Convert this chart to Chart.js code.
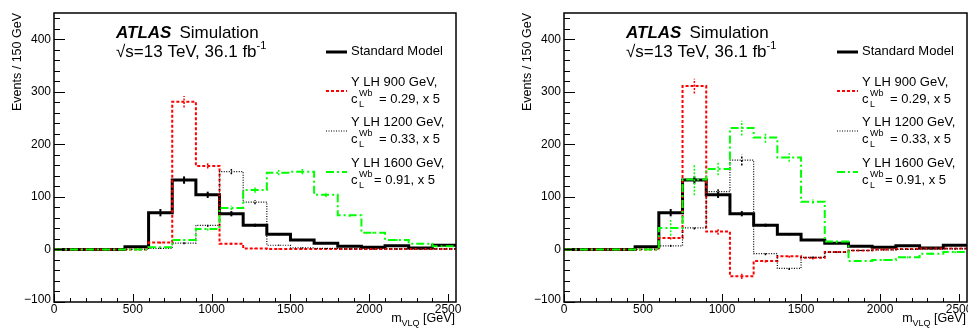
<!DOCTYPE html>
<html><head><meta charset="utf-8">
<script src="https://cdn.jsdelivr.net/npm/chart.js@4/dist/chart.umd.min.js"></script>
<style>
html,body{margin:0;padding:0;background:#fff;}
#wrap{position:relative;width:968px;height:329px;overflow:hidden;background:#fff;}
canvas{position:absolute;top:0;}
</style></head><body>
<div id="wrap">
<canvas id="c1" width="484" height="329" style="left:0px"></canvas>
<canvas id="c2" width="484" height="329" style="left:484px"></canvas>
</div>
<script>
// ---------- data ----------
const binEdges = [0,150,300,450,600,750,900,1050,1200,1350,1500,1650,1800,1950,2100,2250,2400,2550];
const xTickValues = [0,500,1000,1500,2000,2500];
const yTickValues = [-100,0,100,200,300,400];

const legendLabels = ["Standard Model", "Y LH 900 GeV,", "Y LH 1200 GeV,", "Y LH 1600 GeV,"];
const couplingLabels = ["= 0.29, x 5", "= 0.33, x 5", "= 0.91, x 5"];

// Standard Model (same in both panels)
const smValues = [0,0,0,5,70,132,104,68,46,29,18,12,6,4,7,3,8];
const smErrors = [0,0,0,1,7,7,6,5,3,2,2,1.5,1,1,1,1,1];

// Left panel signals
const leftY900  = [0,0,0,0,13,281,159,11,2,1,1,1,1,1,1,1,1];
const leftY900Err  = [0,0,0,0,2,11,5,2,1,1,1,1,1,1,1,1,1];
const leftY1200 = [0,0,0,0,2,12,46,148,90,8,3,2,1,1,1,1,1];
const leftY1200Err = [0,0,0,0,1,2,3,5,4,1,1,1,1,1,1,1,1];
const leftY1600 = [0,0,0,0,4,18,39,79,113,146,148,104,65,32,18,11,6];
const leftY1600Err = [0,0,0,0,1,2,3,4,5,5,5,4,3,2,2,1,1];

// Right panel signals
const rightY900  = [0,0,0,0,22,311,34,-51,-22,-13,-16,-5,-2,0,1,2,2];
const rightY900Err  = [0,0,0,0,3,14,6,5,3,3,3,2,1,1,1,1,1];
const rightY1200 = [0,0,0,0,7,41,110,170,-8,-36,-15,-5,-2,-1,0,1,1];
const rightY1200Err = [0,0,0,0,2,3,6,10,3,3,2,1,1,1,1,1,1];
const rightY1600 = [0,0,0,0,41,133,153,231,213,175,91,15,-22,-20,-15,-8,-5];
const rightY1600Err = [0,0,0,0,15,30,12,14,10,8,4,3,2,2,2,2,2];

// ---------- helpers ----------
const FONT = '"Liberation Sans", Arial, Helvetica, sans-serif';
function histPoints(vals){
  const pts = vals.map((v,i)=>({x: binEdges[i], y: v}));
  pts.push({x: binEdges[vals.length], y: vals[vals.length-1]});
  return pts;
}
const styles = {
  sm:   {color:'#000000', width:3,   dash:[]},
  y900: {color:'#ff0000', width:2,   dash:[3,2]},
  y1200:{color:'#000000', width:1.2, dash:[1,1.5]},
  y1600:{color:'#00ff00', width:2,   dash:[8,3,2,3]}
};
function ds(label, vals, errs, st, order){
  return {label, data: histPoints(vals), errs, borderColor: st.color, borderWidth: st.width,
    borderDash: st.dash, stepped: 'before', pointRadius: 0, fill: false, order, tension: 0};
}

const errorPlugin = {
  id:'errbars',
  afterDatasetsDraw(chart){
    const ctx = chart.ctx, a = chart.chartArea, xs = chart.scales.x, ys = chart.scales.y;
    ctx.save();
    ctx.beginPath(); ctx.rect(a.left, a.top, a.right-a.left, a.bottom-a.top); ctx.clip();
    chart.data.datasets.forEach(d=>{
      ctx.strokeStyle = d.borderColor;
      ctx.lineWidth = d.borderWidth >= 3 ? 2 : 1.5;
      ctx.setLineDash(d.borderDash.length ? [2,1.5] : []);
      d.errs.forEach((e,i)=>{
        if(!e) return;
        const v = d.data[i].y;
        const xc = xs.getPixelForValue((binEdges[i]+binEdges[i+1])/2);
        ctx.beginPath();
        ctx.moveTo(xc, ys.getPixelForValue(v-e));
        ctx.lineTo(xc, ys.getPixelForValue(v+e));
        ctx.stroke();
      });
    });
    ctx.restore();
  }
};

function decorPlugin(){
  return {
    id:'decor',
    afterDraw(chart){
      const ctx = chart.ctx, a = chart.chartArea, xs = chart.scales.x, ys = chart.scales.y;
      ctx.save();
      ctx.setLineDash([]);
      ctx.strokeStyle = '#000'; ctx.fillStyle = '#000';
      // frame
      ctx.lineWidth = 1.5;
      ctx.strokeRect(a.left, a.top, a.right-a.left, a.bottom-a.top);
      // x ticks
      ctx.lineWidth = 1;
      for(let v=0; v<=2550; v+=100){
        const x = Math.round(xs.getPixelForValue(v))+0.5;
        const len = (v%500===0) ? 8 : 4;
        ctx.beginPath(); ctx.moveTo(x, a.bottom); ctx.lineTo(x, a.bottom-len); ctx.stroke();
      }
      // y ticks
      for(let v=-100; v<=450; v+=20){
        const y = Math.round(ys.getPixelForValue(v))+0.5;
        const len = (v%100===0) ? 11 : 6;
        ctx.beginPath(); ctx.moveTo(a.left, y); ctx.lineTo(a.left+len, y); ctx.stroke();
      }
      // tick labels
      ctx.font = '12px '+FONT;
      ctx.textAlign = 'center'; ctx.textBaseline = 'middle';
      xTickValues.forEach(v=>{
        ctx.fillText(String(v), xs.getPixelForValue(v), a.bottom+8);
      });
      ctx.textAlign = 'right';
      yTickValues.forEach(v=>{
        const lab = v<0 ? '\u2212'+Math.abs(v) : String(v);
        let y = ys.getPixelForValue(v);
        if(v===-100) y -= 2;
        ctx.fillText(lab, a.left-3, y);
      });
      // y title
      ctx.save();
      ctx.translate(a.left-36, a.top);
      ctx.rotate(-Math.PI/2);
      ctx.font = '12.5px '+FONT;
      ctx.textAlign = 'right'; ctx.textBaseline = 'middle';
      ctx.fillText('Events / 150 GeV', 0, 0);
      ctx.restore();
      // x title
      ctx.textBaseline = 'middle'; ctx.textAlign = 'left';
      ctx.font = '12.5px '+FONT;
      const tGeV = ' [GeV]';
      const wGeV = ctx.measureText(tGeV).width;
      ctx.font = '9px '+FONT;
      const wSub = ctx.measureText('VLQ').width;
      ctx.font = '12.5px '+FONT;
      const wM = ctx.measureText('m').width;
      const xEnd = a.right - 1;
      const x0 = xEnd - wGeV - wSub - wM;
      ctx.fillText('m', x0, 319);
      ctx.fillText(tGeV, x0+wM+wSub, 319);
      ctx.font = '9px '+FONT;
      ctx.fillText('VLQ', x0+wM, 324);

      // ATLAS label
      const lx = a.left + 62;
      ctx.textBaseline = 'alphabetic'; ctx.textAlign = 'left';
      ctx.font = 'italic bold 17px '+FONT;
      ctx.fillText('ATLAS', lx, 38);
      const wA = ctx.measureText('ATLAS').width;
      ctx.font = '17px '+FONT;
      ctx.fillText('Simulation', lx + wA + 8, 38);
      const line2 = '\u221As=13 TeV, 36.1 fb';
      ctx.fillText(line2, lx, 57);
      const w2 = ctx.measureText(line2).width;
      ctx.font = '11px '+FONT;
      ctx.fillText('-1', lx + w2, 49);

      // legend
      const R = a.right;
      const tx = R - 105, s1 = R - 130, s2 = R - 109;
      const entries = [
        {st: styles.sm,    y: 52},
        {st: styles.y900,  y: 91},
        {st: styles.y1200, y: 131},
        {st: styles.y1600, y: 172}
      ];
      entries.forEach((e,i)=>{
        ctx.save();
        ctx.strokeStyle = e.st.color; ctx.lineWidth = e.st.width; ctx.setLineDash(e.st.dash);
        ctx.beginPath(); ctx.moveTo(s1, e.y); ctx.lineTo(s2, e.y); ctx.stroke();
        ctx.restore();
        ctx.fillStyle = '#000';
        ctx.textBaseline = 'middle'; ctx.textAlign = 'left';
        ctx.font = '13px '+FONT;
        if(i===0){
          ctx.fillText(legendLabels[0], tx, e.y-1);
        } else {
          ctx.fillText(legendLabels[i], tx, e.y-9);
          const cy = e.y + 8;
          ctx.fillText('c', tx, cy);
          ctx.font = '9px '+FONT;
          ctx.fillText('Wb', tx+8, cy-5);
          ctx.fillText('L', tx+8, cy+6);
          ctx.font = '13px '+FONT;
          ctx.fillText(couplingLabels[i-1], tx + (i===3 ? 23 : 28), cy);
        }
      });
      ctx.restore();
    }
  };
}

function makeChart(id, padLeft, padRight, sig900, e900, sig1200, e1200, sig1600, e1600){
  return new Chart(document.getElementById(id), {
    type:'line',
    data:{datasets:[
      ds('Standard Model', smValues, smErrors, styles.sm, 4),
      ds('Y LH 900 GeV', sig900, e900, styles.y900, 3),
      ds('Y LH 1200 GeV', sig1200, e1200, styles.y1200, 2),
      ds('Y LH 1600 GeV', sig1600, e1600, styles.y1600, 1)
    ]},
    options:{
      responsive:false, animation:false, devicePixelRatio:1,
      layout:{padding:{left:padLeft, right:padRight, top:13, bottom:27}},
      plugins:{legend:{display:false}, tooltip:{enabled:false}},
      scales:{
        x:{type:'linear', min:0, max:2550, display:false},
        y:{type:'linear', min:-100, max:450, display:false}
      }
    },
    plugins:[errorPlugin, decorPlugin()]
  });
}

makeChart('c1', 54, 28, leftY900, leftY900Err, leftY1200, leftY1200Err, leftY1600, leftY1600Err);
makeChart('c2', 80, 1, rightY900, rightY900Err, rightY1200, rightY1200Err, rightY1600, rightY1600Err);
</script>
</body></html>
